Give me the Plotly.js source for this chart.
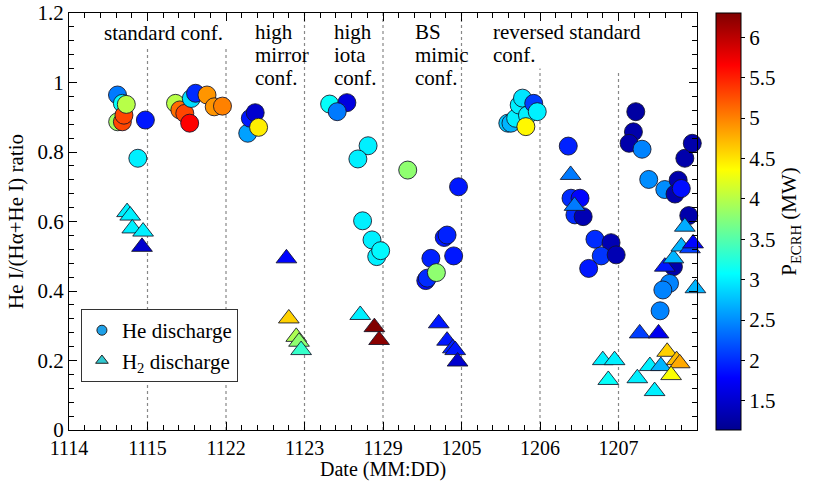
<!DOCTYPE html>
<html>
<head>
<meta charset="utf-8">
<script src="https://cdn.plot.ly/plotly-3.0.1.min.js"></script>
<style>html,body{margin:0;padding:0;background:#fff;}</style>
</head>
<body>
<div id="chart" style="width:816px;height:483px;"></div>
<script>
// Date tick positions and labels (categorical day index)
const dateTicks = [0, 1, 2, 3, 4, 5, 6, 7];
const dateLabels = ['1114', '1115', '1122', '1123', '1129', '1205', '1206', '1207'];

// He discharge (circles): x = day index position, y = He I/(Ha+He I) ratio, p = P_ECRH (MW)
const heX = [0.62, 0.68, 0.618, 0.68, 0.70, 0.73, 0.973, 0.877,
  1.357, 1.412, 1.475, 1.537, 1.558, 1.612, 1.758, 1.85, 1.955,
  2.277, 2.31, 2.372, 2.415,
  3.32, 3.54, 3.417, 3.81, 3.68, 3.74, 3.86, 3.92, 3.97,
  4.315, 4.962, 4.78, 4.816, 4.90, 4.61, 4.545, 4.565, 4.68,
  5.59, 5.63, 5.69, 5.735, 5.777, 5.84, 5.92, 5.965, 5.82,
  6.36, 6.395, 6.51, 6.445, 6.55, 6.70, 6.905, 6.78, 6.97, 6.62,
  7.22, 7.19, 7.135, 7.30, 7.385, 7.59, 7.76, 7.72, 7.80, 7.845, 7.94, 7.895, 7.70, 7.65, 7.565, 7.53];
const heY = [0.887, 0.887, 0.964, 0.940, 0.906, 0.937, 0.892, 0.782,
  0.940, 0.921, 0.911, 0.883, 0.954, 0.969, 0.964, 0.930, 0.932,
  0.854, 0.897, 0.913, 0.871,
  0.938, 0.942, 0.916, 0.818, 0.780, 0.602, 0.547, 0.499, 0.516,
  0.748, 0.700, 0.554, 0.561, 0.501, 0.494, 0.430, 0.437, 0.453,
  0.883, 0.883, 0.897, 0.935, 0.955, 0.906, 0.940, 0.916, 0.873,
  0.817, 0.667, 0.667, 0.619, 0.614, 0.549, 0.539, 0.501, 0.504, 0.465,
  0.916, 0.858, 0.825, 0.808, 0.721, 0.692, 0.719, 0.679, 0.695, 0.782, 0.825, 0.617, 0.470, 0.422, 0.403, 0.343];
const heP = [3.9, 5.3, 2.4, 3.1, 5.3, 4.0, 1.9, 3.0,
  4.0, 5.1, 5.3, 5.66, 2.9, 2.0, 4.9, 4.9, 5.0,
  2.6, 1.9, 1.5, 4.45,
  3.1, 1.6, 2.4, 3.0, 3.0, 3.0, 3.0, 3.0, 3.05,
  3.8, 1.9, 1.9, 1.95, 1.9, 1.95, 1.85, 2.0, 3.8,
  2.8, 2.7, 3.0, 3.0, 2.95, 3.0, 2.1, 3.0, 4.4,
  1.95, 2.0, 1.8, 2.0, 1.35, 2.0, 1.35, 2.05, 1.35, 1.9,
  1.25, 1.3, 1.3, 2.45, 2.5, 2.5, 1.3, 1.3, 1.85, 1.3, 1.3, 1.3, 1.3, 2.45, 2.45, 2.45];

// H2 discharge (triangles)
const h2X = [0.74, 0.78, 0.806, 0.944, 0.93,
  2.77, 2.80, 2.895, 2.93, 2.957,
  3.71, 3.89, 3.95,
  4.71, 4.816, 4.89, 4.92, 4.95,
  6.39, 6.44, 6.80, 6.95, 6.87,
  7.27, 7.51, 7.59, 7.70, 7.80, 7.91, 7.95, 7.845, 7.98, 7.40, 7.54, 7.24, 7.46, 7.62, 7.74, 7.78, 7.67];
const h2Y = [0.627, 0.617, 0.580, 0.571, 0.527,
  0.494, 0.321, 0.268, 0.254, 0.230,
  0.331, 0.296, 0.259,
  0.307, 0.257, 0.235, 0.230, 0.197,
  0.734, 0.645, 0.201, 0.201, 0.144,
  0.278, 0.278, 0.470, 0.494, 0.528, 0.523, 0.537, 0.585, 0.408, 0.184, 0.184, 0.149, 0.112, 0.225, 0.201, 0.192, 0.158];
const h2P = [3.0, 3.0, 3.0, 3.0, 1.5,
  1.8, 4.6, 3.95, 3.8, 3.35,
  3.0, 6.3, 6.25,
  1.9, 1.9, 1.95, 1.9, 1.5,
  2.4, 2.4, 3.0, 3.0, 3.1,
  2.1, 1.7, 1.9, 2.7, 2.7, 2.1, 1.8, 2.65, 2.7, 3.0, 2.7, 3.0, 3.0, 4.6, 4.7, 4.8, 4.35];

// Colorbar ticks
const cbTicks = [1.5, 2, 2.5, 3, 3.5, 4, 4.5, 5, 5.5, 6];

// Configuration labels
const confLines = ['standard conf.', 'high', 'mirror', 'conf.', 'high', 'iota', 'conf.', 'BS', 'mimic', 'conf.', 'reversed standard', 'conf.'];
const confX = [0.426, 2.343, 2.343, 2.343, 3.354, 3.354, 3.354, 4.377, 4.377, 4.377, 5.372, 5.372];
const confY = [1.142, 1.145, 1.079, 1.013, 1.145, 1.079, 1.013, 1.145, 1.079, 1.013, 1.145, 1.079];

// Dotted separators
const sepX = [1, 2, 3, 4, 5, 6, 7];
const sepTop = [1.10, 1.10, 1.2, 1.2, 1.2, 1.04, 1.035];

const xTitle = 'Date (MM:DD)';
const yTitle = 'He I/(Hα+He I) ratio';

const jet = [[0, '#00008f'], [0.125, '#0000ff'], [0.375, '#00ffff'], [0.625, '#ffff00'], [0.875, '#ff0000'], [1, '#800000']];
const cmin = 1.14, cmax = 6.3;
const FONT = "'Liberation Serif', 'Times New Roman', Times, serif";

const traces = [
  {
    type: 'scatter', mode: 'markers', x: heX, y: heY, showlegend: false, cliponaxis: false,
    marker: {
      symbol: 'circle', size: 18, color: heP, colorscale: jet, cmin: cmin, cmax: cmax,
      line: {color: 'rgba(20,20,40,0.85)', width: 1},
      showscale: true,
      colorbar: {
        x: 1.0297, xanchor: 'left', xpad: 0, y: 0.5, yanchor: 'middle', ypad: 0,
        len: 1, lenmode: 'fraction', thickness: 25,
        outlinecolor: '#000', outlinewidth: 1,
        tickvals: cbTicks, ticks: 'outside', ticklen: 4, tickcolor: '#000',
        tickfont: {family: FONT, size: 21, color: '#000'},
        title: {text: 'P<sub>ECRH</sub> (MW)', side: 'right', font: {family: FONT, size: 21, color: '#000'}}
      }
    }
  },
  {
    type: 'scatter', mode: 'markers', x: h2X, y: h2Y, showlegend: false, cliponaxis: false,
    marker: {
      symbol: 'triangle-up', size: 18, color: h2P, colorscale: jet, cmin: cmin, cmax: cmax,
      line: {color: 'rgba(20,20,40,0.85)', width: 1}, showscale: false
    }
  },
  {
    type: 'scatter', mode: 'markers', x: [null], y: [null], name: 'He discharge',
    marker: {symbol: 'circle', size: 10, color: '#1ea0e8', line: {color: '#222', width: 1}}
  },
  {
    type: 'scatter', mode: 'markers', x: [null], y: [null], name: 'H<sub>2</sub> discharge',
    marker: {symbol: 'triangle-up', size: 11, color: '#30c8d0', line: {color: '#222', width: 1}}
  }
];

const shapes = sepX.map((v, i) => ({
  type: 'line', xref: 'x', yref: 'y', x0: v, x1: v, y0: 0, y1: sepTop[i],
  line: {color: '#888', width: 1.2, dash: 'dot'}, layer: 'below'
}));

const annotations = confLines.map((t, i) => ({
  text: t, x: confX[i], y: confY[i], xref: 'x', yref: 'y',
  xanchor: 'left', yanchor: 'middle', showarrow: false,
  font: {family: FONT, size: 21, color: '#000'}
}));
annotations.push({
  text: xTitle, x: 0.5, y: -0.1247, xref: 'paper', yref: 'paper',
  xanchor: 'center', yanchor: 'bottom', showarrow: false, borderpad: 0,
  font: {family: FONT, size: 20, color: '#000'}
});

const axisCommon = {
  showline: true, linecolor: '#000', linewidth: 1, mirror: 'ticks',
  ticks: 'inside', ticklen: 8, tickcolor: '#000', showgrid: false, zeroline: false,
  tickfont: {family: FONT, size: 21, color: '#000'}
};

const layout = {
  width: 816, height: 483,
  margin: {l: 69, r: 108, t: 13, b: 53, pad: 0},
  paper_bgcolor: '#fff', plot_bgcolor: '#fff',
  font: {family: FONT, size: 21, color: '#000'},
  xaxis: Object.assign({}, axisCommon, {
    range: [0, 8], tickmode: 'array', tickvals: dateTicks, ticktext: dateLabels,
    tickfont: {family: FONT, size: 20, color: '#000'},
    minor: {tickmode: 'linear', tick0: 0, dtick: 0.2, ticks: 'inside', ticklen: 5, tickcolor: '#000'},
    automargin: false
  }),
  yaxis: Object.assign({}, axisCommon, {
    range: [0, 1.2], tickmode: 'linear', tick0: 0, dtick: 0.2,
    minor: {tickmode: 'linear', tick0: 0, dtick: 0.04, ticks: 'inside', ticklen: 5, tickcolor: '#000'},
    title: {text: yTitle, standoff: 8, font: {family: FONT, size: 21, color: '#000'}},
    automargin: false
  }),
  showlegend: true,
  legend: {
    x: 0.019, y: 0.29, xanchor: 'left', yanchor: 'top',
    bordercolor: '#333', borderwidth: 1, bgcolor: '#fff',
    font: {family: FONT, size: 21, color: '#000'}, tracegroupgap: 0
  },
  shapes: shapes,
  annotations: annotations
};

Plotly.newPlot('chart', traces, layout, {displayModeBar: false, staticPlot: true});
</script>
</body>
</html>
